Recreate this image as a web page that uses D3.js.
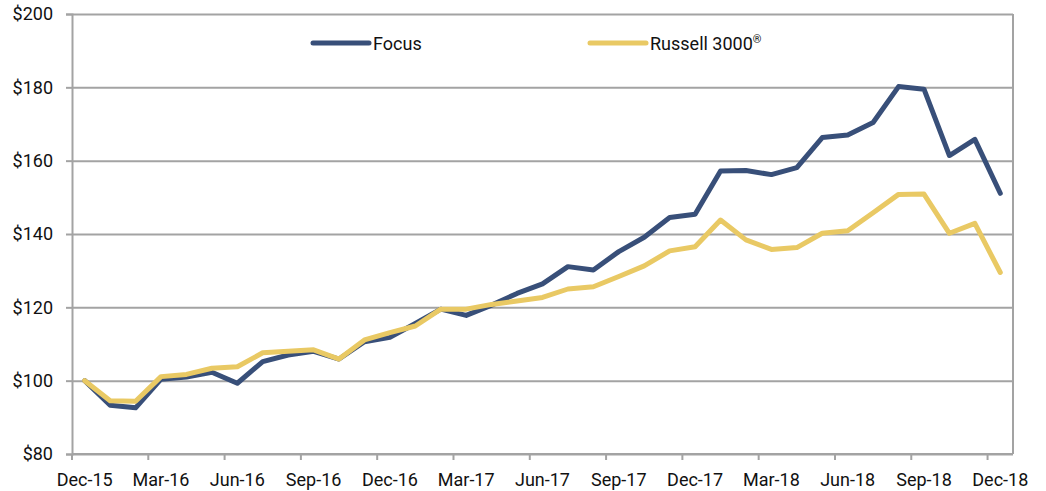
<!DOCTYPE html>
<html>
<head>
<meta charset="utf-8">
<script src="https://cdn.jsdelivr.net/npm/d3@7"></script>
<style>
  body { margin: 0; background: #fff; }
  svg text { font-family: Roboto, "Liberation Sans", sans-serif; fill: #111; }
</style>
</head>
<body>
<svg id="viz"></svg>
<script>
var width = 1046;
var height = 491;

// monthly, Dec-15 .. Dec-18
var months = ["Dec-15","Jan-16","Feb-16","Mar-16","Apr-16","May-16","Jun-16","Jul-16","Aug-16","Sep-16","Oct-16","Nov-16",
  "Dec-16","Jan-17","Feb-17","Mar-17","Apr-17","May-17","Jun-17","Jul-17","Aug-17","Sep-17","Oct-17","Nov-17",
  "Dec-17","Jan-18","Feb-18","Mar-18","Apr-18","May-18","Jun-18","Jul-18","Aug-18","Sep-18","Oct-18","Nov-18","Dec-18"];

var focus = [100, 93.3, 92.6, 100.4, 101.0, 102.3, 99.3, 105.2, 107.0, 108.0, 105.9, 110.6,
  111.8, 115.6, 119.5, 117.8, 120.6, 123.8, 126.4, 131.1, 130.2, 135.2, 139.1, 144.5,
  145.4, 157.2, 157.3, 156.2, 158.1, 166.3, 167.0, 170.4, 180.2, 179.5, 161.4, 165.8, 151.1];

var russell = [100, 94.5, 94.4, 101.1, 101.7, 103.4, 103.8, 107.6, 108.0, 108.4, 105.9, 111.1,
  113.1, 114.9, 119.5, 119.5, 120.8, 121.7, 122.7, 125.0, 125.6, 128.4, 131.3, 135.4,
  136.5, 143.8, 138.4, 135.8, 136.3, 140.2, 140.9, 145.8, 150.8, 150.9, 140.2, 142.9, 129.5];

var yTicks = [80, 100, 120, 140, 160, 180, 200];

var seriesNames = ["Focus", "Russell 3000"];
var seriesColors = ["#384f79", "#e9c964"];

var margin = { top: 14, right: 33, bottom: 37, left: 72 };

var svg = d3.select("#viz")
  .attr("width", width)
  .attr("height", height);

var x = d3.scaleBand()
  .domain(months)
  .range([margin.left, width - margin.right])
  .padding(0);

var y = d3.scaleLinear()
  .domain([80, 200])
  .range([height - margin.bottom, margin.top]);

var gridColor = "#a3a3a3";
var bottom = height - margin.bottom;

// gridlines
svg.append("g")
  .attr("transform", `translate(${margin.left},0)`)
  .call(d3.axisLeft(y).tickValues(yTicks).tickSize(-(width - margin.left - margin.right)).tickFormat(""))
  .call(g => g.select(".domain").remove())
  .call(g => g.selectAll("line").attr("stroke", gridColor).attr("stroke-width", 2));

// right border
svg.append("line")
  .attr("x1", width - margin.right).attr("x2", width - margin.right)
  .attr("y1", margin.top).attr("y2", bottom)
  .attr("stroke", gridColor).attr("stroke-width", 2);

// y axis
svg.append("g")
  .attr("transform", `translate(${margin.left},0)`)
  .call(d3.axisLeft(y).tickValues(yTicks).tickSize(6).tickPadding(13).tickFormat(d => "$" + d))
  .call(g => g.select(".domain").attr("stroke", gridColor).attr("stroke-width", 2))
  .call(g => g.selectAll("line").attr("stroke", gridColor).attr("stroke-width", 2))
  .call(g => g.selectAll("text").attr("font-size", 18).attr("font-family", "Roboto, sans-serif").attr("fill", "#111"));

// x axis
var xg = svg.append("g");
xg.append("line")
  .attr("x1", margin.left).attr("x2", width - margin.right)
  .attr("y1", bottom).attr("y2", bottom)
  .attr("stroke", gridColor).attr("stroke-width", 2);

var labelled = months.filter((m, i) => i % 3 == 0);

xg.selectAll(".tick")
  .data(labelled)
  .join("line")
  .attr("class", "tick")
  .attr("x1", d => x(d)).attr("x2", d => x(d))
  .attr("y1", bottom).attr("y2", bottom + 6)
  .attr("stroke", gridColor).attr("stroke-width", 2);

xg.selectAll("text")
  .data(labelled)
  .join("text")
  .attr("x", d => x(d) + x.bandwidth() / 2)
  .attr("y", bottom + 32)
  .attr("text-anchor", "middle")
  .attr("font-size", 18)
  .text(d => d);

// lines
var line = d3.line()
  .x((d, i) => x(months[i]) + x.bandwidth() / 2)
  .y(d => y(d));

[focus, russell].forEach(function (vals, k) {
  svg.append("path")
    .datum(vals)
    .attr("fill", "none")
    .attr("stroke", seriesColors[k])
    .attr("stroke-width", 5)
    .attr("stroke-linejoin", "round")
    .attr("stroke-linecap", "round")
    .attr("d", line);
});

// legend
var legendX = [313, 590];
var legend = svg.append("g");
seriesNames.forEach(function (name, k) {
  legend.append("line")
    .attr("x1", legendX[k]).attr("x2", legendX[k] + 56)
    .attr("y1", 43).attr("y2", 43)
    .attr("stroke", seriesColors[k])
    .attr("stroke-width", 5)
    .attr("stroke-linecap", "round");
  var t = legend.append("text")
    .attr("x", legendX[k] + 60)
    .attr("y", 50)
    .attr("font-size", 18)
    .text(name);
  if (k == 1) {
    t.append("tspan").attr("font-size", 11).attr("dy", -7).text("®");
  }
});
</script>
</body>
</html>
